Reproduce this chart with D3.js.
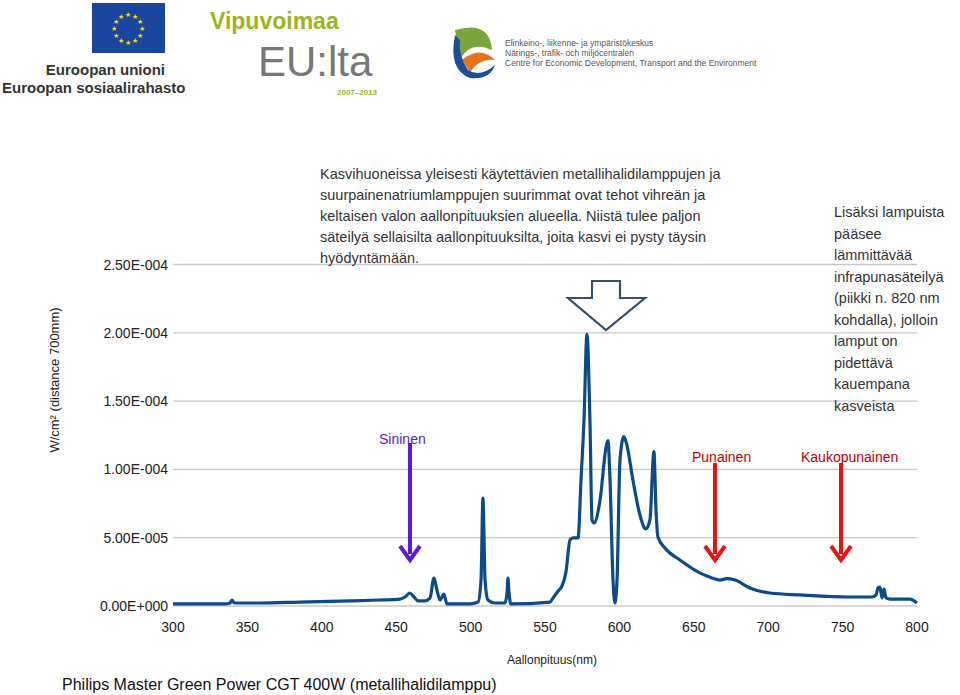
<!DOCTYPE html><html><head><meta charset="utf-8"><script src="https://cdn.jsdelivr.net/npm/d3@7"></script>
<style>body{margin:0;background:#fff}text{font-family:Arial,"Liberation Sans",sans-serif}</style></head><body><svg id="c" width="960" height="695"></svg>
<script>
const wavelength=[300,335,338.3,339.7,341,358.5,385,419,439,452.5,456,459,462,464.6,469.3,472.7,475.4,477.4,479.4,482.1,484.1,499.6,505,507,508.3,509.7,511.7,516.4,523.1,524.5,525.1,525.8,527,553.4,555.4,558.8,561.4,564.1,566.8,568.8,572.2,574.2,576.2,578.2,580.2,581.6,582.9,587,591,592.3,593.7,595.7,597,598.4,600.4,603,605,609.1,613.8,617.8,620.5,623.2,624.6,625.9,630.6,640.7,654.1,662.2,667.6,672,677.7,687.7,701.2,721.4,755,769.8,772.5,773.8,775.1,776.5,777.8,779.2,781.9,795.3,800];
const irradiance=[1.5e-6,1.5e-6,2.2e-6,4.4e-6,2.2e-6,2.2e-6,2.9e-6,3.7e-6,4.4e-6,5.1e-6,6.6e-6,9.5e-6,6.6e-6,3.7e-6,3.7e-6,5.9e-6,2.05e-5,1.17e-5,4.4e-6,8.8e-6,1.5e-6,1.5e-6,2.9e-6,1.9e-5,7.9e-5,1.9e-5,4.4e-6,2.2e-6,2.2e-6,1.02e-5,2.05e-5,1.02e-5,1.5e-6,2.9e-6,5.9e-6,1.1e-5,1.46e-5,2.49e-5,4.83e-5,4.98e-5,4.98e-5,9.22e-5,1.36e-4,1.99e-4,1.36e-4,6.3e-5,6.08e-5,7.76e-5,1.16e-4,1.21e-4,9.22e-5,1.9e-5,2.2e-6,1.9e-5,1.07e-4,1.24e-4,1.18e-4,9.22e-5,6.66e-5,5.64e-5,6.3e-5,1.13e-4,7.03e-5,5.05e-5,4.25e-5,3.37e-5,2.42e-5,2.05e-5,1.9e-5,2.0e-5,1.9e-5,1.32e-5,9.5e-6,8.1e-6,6.6e-6,6.6e-6,8.1e-6,1.32e-5,1.39e-5,5.9e-6,1.24e-5,5.9e-6,5.1e-6,5.1e-6,2.2e-6];
const yTicks=[0,5e-5,1e-4,1.5e-4,2e-4,2.5e-4];
const yTickLabels=["0.00E+000","5.00E-005","1.00E-004","1.50E-004","2.00E-004","2.50E-004"];
const xTicks=[300,350,400,450,500,550,600,650,700,750,800];
const svg=d3.select("#c");
const x=d3.scaleLinear().domain([300,800]).range([173,917]);
const y=d3.scaleLinear().domain([0,2.5e-4]).range([606,264.5]);
svg.append("g").selectAll("line").data(yTicks).join("line").attr("x1",173).attr("x2",917).attr("y1",d=>y(d)).attr("y2",d=>y(d)).attr("stroke","#c8c8c8").attr("stroke-width",1.3);
svg.append("g").selectAll("text").data(yTicks).join("text").attr("x",168).attr("y",d=>y(d)+5).attr("text-anchor","end").attr("font-size",14).attr("fill","#222").text((d,i)=>yTickLabels[i]);
svg.append("g").selectAll("text").data(xTicks).join("text").attr("x",d=>x(d)).attr("y",632).attr("text-anchor","middle").attr("font-size",14).attr("fill","#222").text(d=>d);
svg.append("text").attr("transform","translate(59,380) rotate(-90)").attr("text-anchor","middle").attr("font-size",13).attr("fill","#222").text("W/cm² (distance 700mm)");
svg.append("text").attr("x",552).attr("y",664).attr("text-anchor","middle").attr("font-size",12).attr("fill","#222").text("Aallonpituus(nm)");
svg.append("text").attr("x",62).attr("y",690).attr("font-size",16).attr("fill","#111").text("Philips Master Green Power CGT 400W (metallihalidilamppu)");
const pts=wavelength.map((w,i)=>[w,irradiance[i]]);
svg.append("path").datum(pts).attr("d",d3.line().x(d=>x(d[0])).y(d=>y(d[1])).curve(d3.curveMonotoneX)).attr("fill","none").attr("stroke","#0d4a8a").attr("stroke-width",3.2).attr("stroke-linejoin","round");
function arrow(xp,y1,y2,col){svg.append("line").attr("x1",xp).attr("x2",xp).attr("y1",y1).attr("y2",y2-6).attr("stroke",col).attr("stroke-width",4);
 svg.append("path").attr("d",`M${xp-10},${y2-14} L${xp},${y2} L${xp+10},${y2-14}`).attr("fill","none").attr("stroke",col).attr("stroke-width",4);}
arrow(410,443,560,"#5b17e6");arrow(715,463,560,"#ee1111");arrow(841,463,560,"#ee1111");
svg.append("path").attr("d","M592,281 L620,281 L620,298 L645,298 L606,330 L568,298 L592,298 Z").attr("fill","#fff").attr("stroke","#3a5068").attr("stroke-width",2.2);
svg.append("text").attr("x",379).attr("y",444).attr("font-size",14).attr("fill","#5b17e6").text("Sininen");
svg.append("text").attr("x",692).attr("y",462).attr("font-size",14).attr("fill","#c00000").text("Punainen");
svg.append("text").attr("x",801).attr("y",462).attr("font-size",14).attr("fill","#c00000").text("Kaukopunainen");
const note1=["Kasvihuoneissa yleisesti käytettävien metallihalidilamppujen ja","suurpainenatriumlamppujen suurimmat ovat tehot vihreän ja","keltaisen  valon aallonpituuksien alueella. Niistä tulee paljon","säteilyä sellaisilta aallonpituuksilta, joita kasvi ei pysty täysin","hyödyntämään."];
svg.append("g").selectAll("text").data(note1).join("text").attr("x",320).attr("y",(d,i)=>179+i*21).attr("font-size",14.5).attr("fill","#333").text(d=>d);
const note2=["Lisäksi lampuista","pääsee","lämmittävää","infrapunasäteilyä","(piikki n. 820 nm","kohdalla), jolloin","lamput on","pidettävä","kauempana","kasveista"];
svg.append("g").selectAll("text").data(note2).join("text").attr("x",834).attr("y",(d,i)=>217+i*21.5).attr("font-size",14.5).attr("fill","#333").text(d=>d);
svg.append("rect").attr("x",92).attr("y",3).attr("width",73).attr("height",50).attr("fill","#1b46a0");
d3.range(12).forEach(i=>{const a=i*Math.PI/6;svg.append("text").attr("x",128+14*Math.cos(a)).attr("y",31+14*Math.sin(a)).attr("text-anchor","middle").attr("font-size",7).attr("fill","#ffdd00").text("★");});
svg.append("text").attr("x",165).attr("y",75).attr("text-anchor","end").attr("font-size",15).attr("font-weight","bold").attr("fill","#333").text("Euroopan unioni");
svg.append("text").attr("x",2).attr("y",93).attr("font-size",15).attr("font-weight","bold").attr("fill","#333").text("Euroopan sosiaalirahasto");
svg.append("text").attr("x",210).attr("y",29).attr("font-size",23).attr("font-weight","bold").attr("fill","#9ab51c").text("Vipuvoimaa");
svg.append("text").attr("x",258).attr("y",76).attr("font-size",42).attr("fill","#777").text("EU:lta");
svg.append("text").attr("x",337).attr("y",95).attr("font-size",8).attr("font-weight","bold").attr("fill","#9ab51c").text("2007–2013");
svg.append("path").attr("d","M455,30 Q490,20 492,50 Q470,40 460,60 Z").attr("fill","#7aa53a");
svg.append("path").attr("d","M462,60 Q480,45 495,60 Q480,58 470,72 Z").attr("fill","#e8731d");
svg.append("path").attr("d","M455,35 Q448,70 470,78 Q490,80 495,65 Q480,78 468,70 Q458,55 460,40 Z").attr("fill","#1b4e94");
["Elinkeino-, liikenne- ja ympäristökeskus","Närings-, trafik- och miljöcentralen","Centre for Economic Development, Transport and the Environment"].forEach((t,i)=>svg.append("text").attr("x",505).attr("y",46+i*10).attr("font-size",8.5).attr("fill","#555").text(t));
</script></body></html>
